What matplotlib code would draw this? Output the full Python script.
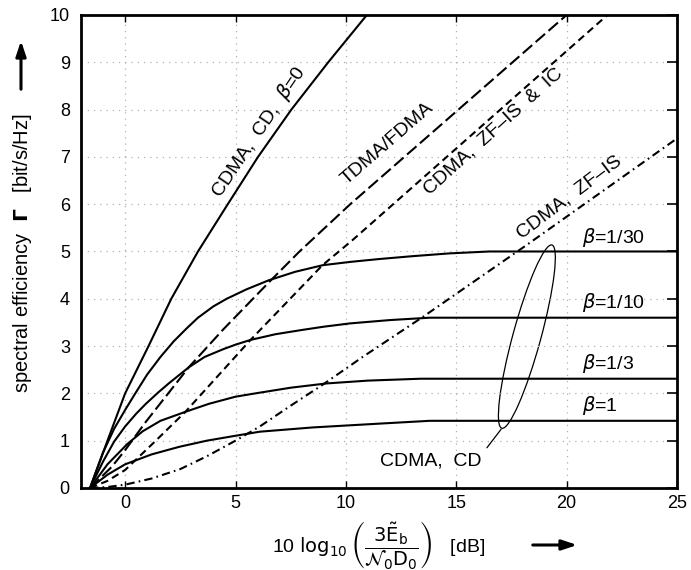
import numpy as np
import matplotlib
matplotlib.use('Agg')
import matplotlib.pyplot as plt
from matplotlib.patches import Ellipse
from matplotlib.transforms import ScaledTranslation

plt.rcParams['font.family'] = ['Liberation Sans', 'DejaVu Sans']
plt.rcParams['mathtext.fontset'] = 'dejavusans'

# curves: x in dB, y in bit/s/Hz
x_b0 = [-1.59, -0.8, 0.0, 1.06, 2.09, 3.3, 4.65, 6.02, 7.53, 9.2, 10.95]
y_b0 = [0, 1, 2, 3, 4, 5, 6, 7, 8, 9, 10]

x_b30 = [-1.59, -1.0, -0.5, 0.0, 0.5, 1.0, 1.6, 2.2, 2.8, 3.3, 4.0, 4.6, 5.5, 6.5,
         7.7, 8.95, 10.2, 11.5, 13.0, 14.7, 16.5, 25]
y_b30 = [0, 0.75, 1.25, 1.65, 2.03, 2.4, 2.77, 3.1, 3.38, 3.6, 3.84, 4.0, 4.2, 4.39,
         4.57, 4.71, 4.78, 4.84, 4.9, 4.96, 5.0, 5.0]

x_b10 = [-1.59, -1.0, -0.5, 0.0, 0.5, 0.94, 1.5, 2.0, 2.88, 3.6, 4.42, 5.0, 5.68, 6.8,
         8.0, 9.0, 10.2, 12.0, 13.8, 25]
y_b10 = [0, 0.56, 0.98, 1.3, 1.57, 1.78, 2.02, 2.22, 2.55, 2.77, 2.93, 3.03, 3.13, 3.25,
         3.34, 3.41, 3.48, 3.55, 3.6, 3.6]

x_b3 = [-1.59, -0.8, 0.1, 0.8, 1.6, 2.73, 3.8, 5.0, 5.9, 7.5, 9.12, 11.0, 13.4, 25]
y_b3 = [0, 0.5, 0.93, 1.2, 1.42, 1.61, 1.78, 1.93, 2.0, 2.12, 2.21, 2.27, 2.31, 2.31]

x_b1 = [-1.59, -0.8, 0.0, 1.2, 2.45, 3.7, 4.95, 6.1, 8.5, 11.5, 13.8, 25]
y_b1 = [0, 0.28, 0.5, 0.71, 0.87, 1.0, 1.1, 1.19, 1.28, 1.36, 1.42, 1.42]

x_tdma = [-1.59, -0.6, 0.0, 0.94, 2.88, 4.42, 6.6, 7.9, 10.2, 20.0]
y_tdma = [0, 0.45, 0.8, 1.4, 2.55, 3.34, 4.39, 5.0, 6.0, 10.0]

x_zfic = [-1.59, -0.8, 0.0, 1.3, 2.73, 5.68, 8.94, 10.3, 21.85]
y_zfic = [0, 0.15, 0.38, 0.96, 1.61, 3.13, 4.71, 5.24, 10.0]

x_zf = [-1.59, -0.8, 0.0, 1.2, 2.5, 3.7, 5.0, 6.1, 7.5, 8.94, 10.76, 13.5, 18.2, 25]
y_zf = [0, 0.02, 0.07, 0.2, 0.4, 0.67, 1.0, 1.3, 1.74, 2.18, 2.77, 3.62, 5.14, 7.39]

beta_labels = ['1/30', '1/10', '1/3', '1']
beta_label_y = [5.05, 3.68, 2.38, 1.5]

fig = plt.figure(figsize=(6.91, 5.70), dpi=100)
ax = fig.add_axes([0.1172, 0.1439, 0.8625, 0.8298])

lw = 1.5
for xs, ys in [(x_b0, y_b0), (x_b30, y_b30), (x_b10, y_b10), (x_b3, y_b3), (x_b1, y_b1)]:
    ax.plot(xs, ys, color='black', lw=lw, solid_joinstyle='round')
ax.plot(x_tdma, y_tdma, color='black', lw=lw, linestyle=(0, (6, 2.2)))
ax.plot(x_zfic, y_zfic, color='black', lw=lw, linestyle=(0, (3.6, 2.2)))
ax.plot(x_zf, y_zf, color='black', lw=lw, linestyle=(0, (4, 2, 0.8, 2)))

ax.set_xlim(-2, 25)
ax.set_ylim(0, 10)
ax.set_xticks([0, 5, 10, 15, 20, 25])
ax.set_yticks(range(0, 11))
ax.grid(True, color='#b0b0b0', linestyle=(0, (1, 4)), lw=0.9)
ax.tick_params(axis='y', left=False, right=True, direction='in', length=7, width=1.2,
               labelsize=13, pad=8)
ax.tick_params(axis='x', bottom=True, top=True, direction='in', length=5, width=1.0,
               labelsize=13, pad=5)
for s in ax.spines.values():
    s.set_linewidth(2)

fs = 14
ax.text(6.05, 7.53, r'CDMA,  CD,  $\beta$=0', rotation=56, ha='center', va='center',
        rotation_mode='anchor', fontsize=fs)
ax.text(11.9, 7.29, 'TDMA/FDMA', rotation=41, ha='center', va='center',
        rotation_mode='anchor', fontsize=fs)
ax.text(16.7, 7.53, 'CDMA,  ZF–IS  &  IC', rotation=42, ha='center', va='center',
        rotation_mode='anchor', fontsize=fs)
ax.text(20.1, 6.14, 'CDMA,  ZF–IS', rotation=37, ha='center', va='center',
        rotation_mode='anchor', fontsize=fs)

for lab, yy in zip(beta_labels, beta_label_y):
    ax.text(20.7, yy, r'$\beta$=' + lab, ha='left', va='bottom', fontsize=fs)

# ellipse around the CDMA, CD curves
trans = fig.dpi_scale_trans + ScaledTranslation(18.2, 3.2, ax.transData)
ax.add_patch(Ellipse((0, 0), width=1.9, height=0.28, angle=74.7, transform=trans,
                     fill=False, lw=0.9, color='black'))
ax.annotate('CDMA,  CD', xy=(17.03, 1.24), xytext=(11.55, 0.56), ha='left', va='center',
            fontsize=fs,
            arrowprops=dict(arrowstyle='-', lw=0.9, color='black', relpos=(1.0, 0.9),
                            shrinkA=3, shrinkB=0))

# axis labels with arrows
fig.text(23 / 691, 1 - 253 / 570, r'spectral efficiency  $\mathbf{\Gamma}$   [bit/s/Hz]',
         rotation=90, ha='center', va='center', fontsize=14.5)
fig.text(272 / 691, 1 - 545 / 570,
         r'10 $\log_{10}\left(\dfrac{3\tilde{\mathrm{E}}_\mathrm{b}}{\mathcal{N}_0\mathrm{D}_0}\right)$   [dB]',
         ha='left', va='center', fontsize=14)
ax.annotate('', xy=(21, 532), xytext=(21, 478), xycoords='figure pixels',
            textcoords='figure pixels',
            arrowprops=dict(arrowstyle='-|>,head_length=0.9,head_width=0.3', lw=2.2, color='black'))
ax.annotate('', xy=(580, 25), xytext=(530, 25), xycoords='figure pixels',
            textcoords='figure pixels',
            arrowprops=dict(arrowstyle='-|>,head_length=0.9,head_width=0.3', lw=2.2, color='black'))

fig.savefig('out.png', dpi=100)
